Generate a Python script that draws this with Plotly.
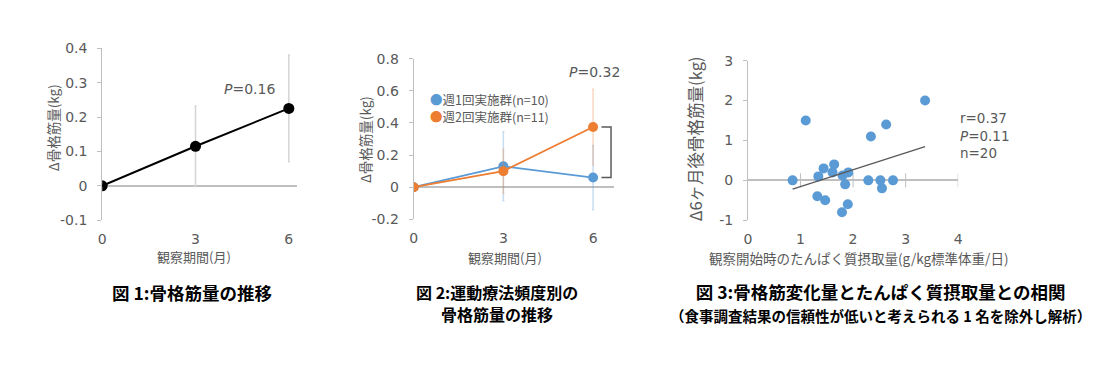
import numpy as np
import plotly.graph_objects as go

W, H = 1110, 366

# ---------------- data ----------------
months = [0, 3, 6]
month_labels = ["0", "3", "6"]

# Fig 1
f1_mean = [0.0, 0.115, 0.225]
f1_err = [0.0, 0.117, 0.155]
f1_yticks = [-0.1, 0, 0.1, 0.2, 0.3, 0.4]
f1_yticktext = ["-0.1", "0", "0.1", "0.2", "0.3", "0.4"]

# Fig 2
f2_names = ["週1回実施群(n=10)", "週2回実施群(n=11)"]
f2_once = [0.0, 0.13, 0.06]
f2_once_err = [0.0, 0.215, 0.20]
f2_twice = [0.0, 0.10, 0.375]
f2_twice_err = [0.0, 0.137, 0.235]
f2_yticks = [-0.2, 0, 0.2, 0.4, 0.6, 0.8]
f2_yticktext = ["-0.2", "0", "0.2", "0.4", "0.6", "0.8"]

# Fig 3
protein = [0.85, 1.10, 3.37, 2.63, 2.34, 1.34, 1.44, 1.64, 1.61, 1.80,
           1.91, 1.85, 1.32, 1.47, 1.90, 1.79, 2.29, 2.52, 2.55, 2.76]
delta6 = [0.0, 1.5, 2.0, 1.4, 1.1, 0.1, 0.3, 0.4, 0.2, 0.12,
          0.2, -0.1, -0.4, -0.5, -0.6, -0.8, 0.0, 0.0, -0.2, 0.0]
f3_xticks = [0, 1, 2, 3, 4]
f3_yticks = [-1, 0, 1, 2, 3]
f3_yticktext = ["-1", "0", "1", "2", "3"]

BLUE = "#5B9BD5"
ORANGE = "#ED7D31"
AX = "#bfbfbf"
TXT = "#595959"
NUMFONT = "DejaVu Sans, Noto Sans CJK JP"
JPFONT = "Noto Sans CJK JP"


def px_x(p):
    return p / W


def px_y(p):
    return 1 - p / H


fig = go.Figure()

# ---- Fig 1 ----
fig.add_trace(go.Scatter(
    x=months, y=f1_mean, mode="lines+markers",
    line=dict(color="black", width=2),
    marker=dict(color="black", size=11),
    error_y=dict(type="data", array=f1_err, color="#d4d4d4", thickness=1.5, width=1),
    xaxis="x", yaxis="y", showlegend=False))

# ---- Fig 2 ----
fig.add_trace(go.Scatter(
    x=months, y=f2_once, mode="lines+markers", name=f2_names[0],
    line=dict(color=BLUE, width=1.8),
    marker=dict(color=BLUE, size=10),
    error_y=dict(type="data", array=f2_once_err, color="rgba(91,155,213,0.35)", thickness=1.5, width=1),
    xaxis="x2", yaxis="y2", showlegend=False))
fig.add_trace(go.Scatter(
    x=months, y=f2_twice, mode="lines+markers", name=f2_names[1],
    line=dict(color=ORANGE, width=1.8),
    marker=dict(color=ORANGE, size=10),
    error_y=dict(type="data", array=f2_twice_err, color="rgba(237,125,49,0.3)", thickness=1.5, width=1),
    xaxis="x2", yaxis="y2", showlegend=False))

# ---- Fig 3 ----
# crossing tick marks on the zero line
fig.add_trace(go.Scatter(
    x=f3_xticks[1:], y=[0] * (len(f3_xticks) - 1), mode="markers",
    marker=dict(symbol="line-ns", size=10, line=dict(color=AX, width=1)),
    xaxis="x3", yaxis="y3", showlegend=False, hoverinfo="skip"))
fig.add_trace(go.Scatter(
    x=protein, y=delta6, mode="markers",
    marker=dict(color=BLUE, size=10),
    xaxis="x3", yaxis="y3", showlegend=False))
slope, icpt = np.polyfit(protein, delta6, 1)
tx = np.array([min(protein), max(protein)])
fig.add_trace(go.Scatter(
    x=tx, y=slope * tx + icpt, mode="lines",
    line=dict(color="#595959", width=1.3),
    xaxis="x3", yaxis="y3", showlegend=False, hoverinfo="skip"))

tickfont = dict(family=NUMFONT, size=14, color=TXT)


def yax(domain_px, rng, tv, tt):
    return dict(domain=[px_y(domain_px[1]), px_y(domain_px[0])], range=rng,
                tickvals=tv, ticktext=tt, showgrid=False,
                showline=True, linecolor=AX, linewidth=1,
                ticks="outside", ticklen=4, tickcolor=AX, tickwidth=1,
                zeroline=True, zerolinecolor=AX, zerolinewidth=1.5,
                tickfont=tickfont, ticklabelstandoff=7, fixedrange=True)


def xax(domain_px, rng, tv, tt, anchor):
    return dict(domain=[px_x(domain_px[0]), px_x(domain_px[1])], range=rng,
                tickvals=tv, ticktext=tt, showgrid=False, showline=False,
                zeroline=False, ticks="", tickfont=tickfont, anchor=anchor,
                ticklabelstandoff=9, fixedrange=True)


fig.update_layout(
    width=W, height=H, margin=dict(l=0, r=0, t=0, b=0),
    paper_bgcolor="white", plot_bgcolor="white",
    xaxis=xax((99, 295), [0, 6.25], months, month_labels, "y"),
    yaxis=yax((42, 222), [-0.1, 0.4], f1_yticks, f1_yticktext),
    xaxis2=xax((413, 615), [0, 6.7], months, month_labels, "y2"),
    yaxis2=dict(yax((53, 221), [-0.2, 0.8], f2_yticks, f2_yticktext), anchor="x2"),
    xaxis3=xax((750, 962), [0, 4], f3_xticks, [str(v) for v in f3_xticks], "y3"),
    yaxis3=dict(yax((55, 222), [-1, 3], f3_yticks, f3_yticktext), anchor="x3"),
)
fig.layout.yaxis.anchor = "x"

# bracket between the two groups at 6 months
bx0, bx1 = 6.28, 6.6
fig.add_shape(type="path", xref="x2", yref="y2",
              path=f"M {bx0},{f2_twice[2]} L {bx1},{f2_twice[2]} L {bx1},{f2_once[2]} L {bx0},{f2_once[2]}",
              line=dict(color="#595959", width=1.5))

ann = []


def A(text, x, y, size=13, family=NUMFONT, angle=0, xanchor="center", color=TXT, weight=None, align="center"):
    f = dict(family=family, size=size, color=color)
    if weight:
        f["weight"] = weight
    ann.append(dict(text=text, x=px_x(x), y=px_y(y),
                    xref="paper", yref="paper", showarrow=False, textangle=angle,
                    xanchor=xanchor, yanchor="middle", font=f, align=align))


# axis titles
A("Δ骨格筋量(kg)", 49, 125, size=13.5, family=JPFONT, angle=-90)
A("観察期間(月)", 192, 260, size=13, family=JPFONT)
A("Δ骨格筋量(kg)", 364, 138, size=13.5, family=JPFONT, angle=-90)
A("観察期間(月)", 505, 261, size=13, family=JPFONT)
A("Δ6ヶ月後骨格筋量(kg)", 697, 137, size=16.5, family=JPFONT, angle=-90)
A("観察開始時のたんぱく質摂取量(g/kg標準体重/日)", 861, 261, size=13.5, family=JPFONT)

# statistics
A("<i>P</i>=0.16", 248, 85, size=14)
A("<i>P</i>=0.32", 595, 67, size=14)
A("r=0.37<br><i>P</i>=0.11<br>n=20", 962, 133, size=13.5, xanchor="left", align="left")

# legend of fig 2
A(f'<span style="color:{BLUE}">●</span>' + f2_names[0], 427, 95.5, size=12.5, family=JPFONT, xanchor="left")
A(f'<span style="color:{ORANGE}">●</span>' + f2_names[1], 427, 113.5, size=12.5, family=JPFONT, xanchor="left")

# captions
A("図 1:骨格筋量の推移", 190, 298, size=17.5, family=JPFONT, color="black", weight=700)
A("図 2:運動療法頻度別の", 497, 297, size=16, family=JPFONT, color="black", weight=700)
A("骨格筋量の推移", 497, 320, size=16, family=JPFONT, color="black", weight=700)
A("図 3:骨格筋変化量とたんぱく質摂取量との相関<br>"
  "<span style=\"font-size:14.5px\">（食事調査結果の信頼性が低いと考えられる 1 名を除外し解析）</span>",
  884, 308, size=17.5, family=JPFONT, color="black", weight=700)

fig.update_layout(annotations=ann)
fig.write_html("out.html", config={"displayModeBar": False},
               post_script="document.body.style.margin='0px';")
